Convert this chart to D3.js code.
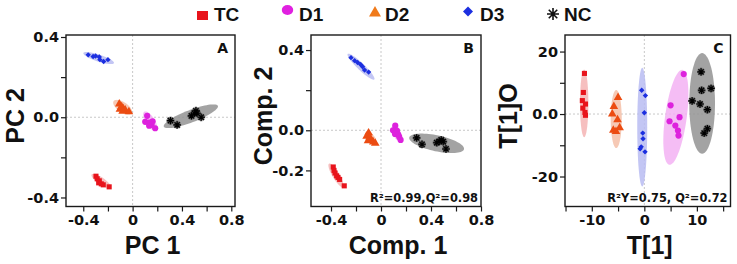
<!DOCTYPE html>
<html>
<head>
<meta charset="utf-8">
<script src="https://cdn.jsdelivr.net/npm/d3@7"></script>
<style>
  body { margin: 0; background: #fff; }
  svg { display: block; }
</style>
</head>
<body>
<div id="chart"></div>
<script>
//************* data ***************/
var groups = ["TC", "D1", "D2", "D3", "NC"];

// panel A : PCA scores
var pcaTC = [[-0.297,-0.294],[-0.287,-0.307],[-0.27,-0.317],[-0.275,-0.327],[-0.254,-0.332],[-0.238,-0.337],[-0.19,-0.347]];
var pcaD1 = [[0.118,0.007],[0.102,-0.023],[0.134,-0.027],[0.162,-0.02],[0.154,-0.038],[0.134,-0.042],[0.183,-0.055]];
var pcaD2 = [[-0.108,0.066],[-0.089,0.053],[-0.076,0.043],[-0.103,0.04],[-0.06,0.036],[-0.03,0.027],[-0.081,0.03]];
var pcaD3 = [[-0.36,0.311],[-0.32,0.303],[-0.3,0.305],[-0.27,0.30],[-0.265,0.287],[-0.235,0.278],[-0.2,0.287]];
var pcaNC = [[0.307,-0.017],[0.361,-0.038],[0.477,0.007],[0.513,0.032],[0.523,0.02],[0.556,0.0],[0.5,0.02]];
// ellipse: centre x, centre y, semi axis u (x,y), semi axis v (x,y)
var pcaEllipses = [
  [-0.255,-0.318, 0.077,-0.0325, -0.016,-0.0145],
  [0.143,-0.02, 0.0486,-0.0475, -0.031,-0.012],
  [-0.081,0.05, 0.073,-0.03, -0.0227,-0.021],
  [-0.275,0.295, 0.124,-0.025, -0.0088,-0.0166],
  [0.472,0.005, 0.2195,0.0515, 0.0175,-0.029]
];

// panel B : PLS-DA scores
var plsTC = [[-0.382,-0.183],[-0.376,-0.2],[-0.368,-0.213],[-0.355,-0.227],[-0.344,-0.235],[-0.331,-0.245],[-0.294,-0.277]];
var plsD1 = [[0.114,0.023],[0.096,0.0],[0.128,-0.003],[0.112,-0.018],[0.138,-0.022],[0.146,-0.033],[0.157,-0.048]];
var plsD2 = [[-0.099,-0.013],[-0.115,-0.03],[-0.091,-0.037],[-0.078,-0.047],[-0.104,-0.052],[-0.062,-0.058],[-0.046,-0.065]];
var plsD3 = [[-0.24,0.362],[-0.211,0.347],[-0.187,0.338],[-0.163,0.328],[-0.147,0.317],[-0.131,0.3],[-0.099,0.29]];
var plsNC = [[0.285,-0.038],[0.328,-0.07],[0.446,-0.062],[0.482,-0.048],[0.498,-0.057],[0.52,-0.093],[0.466,-0.055]];
var plsEllipses = [
  [-0.36,-0.225, 0.056,-0.0585, -0.024,-0.009],
  [0.126,-0.0125, 0.024,-0.04, -0.03,-0.007],
  [-0.082,-0.04, 0.04,-0.03, -0.0246,-0.013],
  [-0.16,0.317, 0.1064,-0.0635, -0.0194,-0.0127],
  [0.445,-0.065, 0.219,-0.029, -0.0133,-0.039]
];

// panel C : OPLS-DA scores
var oplsTC = [[-11.4,13.0],[-11.6,6.9],[-11.8,4.3],[-11.2,3.2],[-11.7,1.9],[-11.3,0.5],[-11.2,-0.4]];
var oplsD1 = [[7.5,12.8],[5.0,2.8],[4.8,-2.3],[6.7,-1.0],[5.9,-3.7],[6.4,-5.3],[6.5,-6.9]];
var oplsD2 = [[-5.0,5.3],[-5.8,2.4],[-6.1,0.0],[-5.1,-1.8],[-4.7,-4.4],[-5.9,-5.2],[-5.4,-5.6]];
var oplsD3 = [[-0.5,7.6],[0.2,5.9],[0.0,0.4],[-0.3,-6.1],[-0.25,-7.9],[-0.6,-10.5],[-0.8,-11.1],[0.13,-12.1]];
var oplsNC = [[10.8,13.5],[12.7,8.2],[10.9,7.6],[9.1,4.2],[10.6,3.2],[12.0,1.4],[12.0,-4.7],[11.4,-6.1]];
var oplsEllipses = [
  [-11.45,3.4, 0,10.8, 0.8,0],
  [6.0,-1.05, 1.24,15.2, 2.04,-0.46],
  [-5.35,-1.6, 0,9.3, 1.05,0],
  [-0.4,-4.2, 0,19, 0.95,0],
  [11.0,3.4, 0,16.1, 2.45,0]
];

// axes
var pcaXDomain = [-0.54, 0.83], pcaYDomain = [0.41, -0.445];
var pcaXTicks = [-0.4,-0.2,0,0.2,0.4,0.6,0.8], pcaXLabels = ["-0.4","","0","","0.4","","0.8"];
var pcaYTicks = [0.4,0.2,0,-0.2,-0.4], pcaYLabels = ["0.4","","0.0","","-0.4"];

var plsXDomain = [-0.56, 0.8], plsYDomain = [0.475, -0.38];
var plsXTicks = [-0.4,-0.2,0,0.2,0.4,0.6,0.8], plsXLabels = ["-0.4","","0","","0.4","","0.8"];
var plsYTicks = [0.4,0.2,0,-0.2], plsYLabels = ["0.4","","0.0","-0.2"];

var oplsXDomain = [-15.1, 16.4], oplsYDomain = [25.3, -29.6];
var oplsXTicks = [-15,-10,-5,0,5,10,15], oplsXLabels = ["","-10","","0","","10",""];
var oplsYTicks = [20,10,0,-10,-20], oplsYLabels = ["20","","0.0","","-20"];

//************* styles ***************/
var pointColor = ["#e8141c", "#dd22dd", "#ec4c12", "#1c2fe0", "#111111"];
var legendColor = ["#e8141c", "#e020e0", "#f07a1a", "#1c2fe0", "#111111"];
var ellipseColor = ["#f4b4b4", "#f3b2f3", "#f4c0a8", "#b8bcf2", "#939393"];
var symbolType = [d3.symbolSquare, d3.symbolCircle, d3.symbolTriangle, "diamond", null];
var symbolSize = [26, 30, 32, 0, 0];

var tickFont = "'DejaVu Sans', sans-serif";
var titleFont = "'Liberation Sans', Arial, sans-serif";

var svg = d3.select("#chart").append("svg")
    .attr("width", 737)
    .attr("height", 264);

function asteriskPath(r) {
  var p = "";
  for (var k = 0; k < 4; k++) {
    var a = k * Math.PI / 4;
    var dx = r * Math.cos(a), dy = r * Math.sin(a);
    p += "M" + (-dx) + "," + (-dy) + "L" + dx + "," + dy;
  }
  return p;
}

function diamondPath(r) {
  return "M0," + (-r) + "L" + r + ",0L0," + r + "L" + (-r) + ",0Z";
}

function ellipsePath(e, x, y) {
  var pts = d3.range(0, 73).map(function(i) {
    var t = i / 72 * 2 * Math.PI;
    return [x(e[0] + e[2] * Math.cos(t) + e[4] * Math.sin(t)),
            y(e[1] + e[3] * Math.cos(t) + e[5] * Math.sin(t))];
  });
  return d3.line()(pts) + "Z";
}

//************* one panel ***************/
function drawPanel(cfg) {
  var x = d3.scaleLinear().domain(cfg.xDomain).range([cfg.left, cfg.right]);
  var y = d3.scaleLinear().domain(cfg.yDomain).range([cfg.top, cfg.bottom]);
  var g = svg.append("g");

  // dotted zero lines
  g.append("line")
    .attr("x1", x(0)).attr("x2", x(0))
    .attr("y1", cfg.top).attr("y2", cfg.bottom)
    .attr("stroke", "#c8c8c8").attr("stroke-dasharray", "2,2");
  g.append("line")
    .attr("x1", cfg.left).attr("x2", cfg.right)
    .attr("y1", y(0)).attr("y2", y(0))
    .attr("stroke", "#c8c8c8").attr("stroke-dasharray", "2,2");

  // ellipses
  g.selectAll(".ell")
    .data(cfg.ellipses)
    .enter().append("path")
      .attr("class", "ell")
      .attr("d", function(e) { return ellipsePath(e, x, y); })
      .attr("fill", function(e, i) { return ellipseColor[i]; })
      .attr("opacity", 0.85);

  // points
  cfg.series.forEach(function(pts, i) {
    var sel = g.selectAll(".pt" + i)
      .data(pts)
      .enter().append("path")
        .attr("class", "pt" + i)
        .attr("transform", function(d) { return "translate(" + x(d[0]) + "," + y(d[1]) + ")"; });
    if (symbolType[i] === "diamond") {
      sel.attr("d", diamondPath(2.7)).attr("fill", pointColor[i]);
    } else if (symbolType[i]) {
      sel.attr("d", d3.symbol().type(symbolType[i]).size(symbolSize[i]))
        .attr("fill", pointColor[i]);
    } else {
      sel.attr("d", asteriskPath(4))
        .attr("fill", "none")
        .attr("stroke", "#555")
        .attr("stroke-width", 2.2);
      g.selectAll(".ptk" + i)
        .data(pts)
        .enter().append("path")
          .attr("class", "ptk" + i)
          .attr("transform", function(d) { return "translate(" + x(d[0]) + "," + y(d[1]) + ")"; })
          .attr("d", asteriskPath(3.6))
          .attr("fill", "none")
          .attr("stroke", "#000")
          .attr("stroke-width", 1.1);
    }
  });

  // frame
  g.append("rect")
    .attr("x", cfg.left).attr("y", cfg.top)
    .attr("width", cfg.right - cfg.left).attr("height", cfg.bottom - cfg.top)
    .attr("fill", "none").attr("stroke", "#1a1a1a").attr("stroke-width", 1.4);

  // axes
  var xAxis = d3.axisBottom(x).tickValues(cfg.xTicks).tickSize(5).tickPadding(3)
    .tickFormat(function(d, i) { return cfg.xLabels[i]; });
  var yAxis = d3.axisLeft(y).tickValues(cfg.yTicks).tickSize(5).tickPadding(2)
    .tickFormat(function(d, i) { return cfg.yLabels[i]; });

  [g.append("g").attr("transform", "translate(0," + cfg.bottom + ")").call(xAxis),
   g.append("g").attr("transform", "translate(" + cfg.left + ",0)").call(yAxis)]
    .forEach(function(a) {
      a.select(".domain").remove();
      a.selectAll("line").attr("stroke", "#1a1a1a").attr("stroke-width", 1.2);
      a.selectAll("text")
        .attr("font-family", tickFont)
        .attr("font-weight", "bold")
        .attr("font-size", "14.5px")
        .attr("fill", "#111");
    });

  // axis titles
  g.append("text")
    .attr("x", (cfg.left + cfg.right) / 2 + 2)
    .attr("y", 254)
    .attr("text-anchor", "middle")
    .attr("font-family", titleFont)
    .attr("font-weight", "bold")
    .attr("font-size", "25px")
    .attr("fill", "#111")
    .text(cfg.xTitle);

  g.append("text")
    .attr("transform", "translate(" + cfg.yTitleX + "," + 116 + ") rotate(-90)")
    .attr("text-anchor", "middle")
    .attr("font-family", titleFont)
    .attr("font-weight", "bold")
    .attr("font-size", "25px")
    .attr("fill", "#111")
    .text(cfg.yTitle);

  // panel letter
  g.append("text")
    .attr("x", cfg.right - 7).attr("y", cfg.top + 18)
    .attr("text-anchor", "end")
    .attr("font-family", tickFont)
    .attr("font-weight", "bold")
    .attr("font-size", "14px")
    .attr("fill", "#111")
    .text(cfg.letter);

  if (cfg.stats) {
    g.append("text")
      .attr("x", cfg.right - 3).attr("y", cfg.bottom - 5)
      .attr("text-anchor", "end")
      .attr("font-family", tickFont)
      .attr("font-weight", "bold")
      .attr("font-size", "11.4px")
      .attr("fill", "#111")
      .text(cfg.stats);
  }
}

drawPanel({
  left: 66, right: 235, top: 35, bottom: 206.5,
  xDomain: pcaXDomain, yDomain: pcaYDomain,
  xTicks: pcaXTicks, xLabels: pcaXLabels, yTicks: pcaYTicks, yLabels: pcaYLabels,
  series: [pcaTC, pcaD1, pcaD2, pcaD3, pcaNC], ellipses: pcaEllipses,
  xTitle: "PC 1", yTitle: "PC 2", yTitleX: 24, letter: "A", stats: null
});

drawPanel({
  left: 311, right: 481, top: 35, bottom: 206.5,
  xDomain: plsXDomain, yDomain: plsYDomain,
  xTicks: plsXTicks, xLabels: plsXLabels, yTicks: plsYTicks, yLabels: plsYLabels,
  series: [plsTC, plsD1, plsD2, plsD3, plsNC], ellipses: plsEllipses,
  xTitle: "Comp. 1", yTitle: "Comp. 2", yTitleX: 272, letter: "B", stats: "R\u00b2=0.99,Q\u00b2=0.98"
});

drawPanel({
  left: 565, right: 730.5, top: 35, bottom: 206.5,
  xDomain: oplsXDomain, yDomain: oplsYDomain,
  xTicks: oplsXTicks, xLabels: oplsXLabels, yTicks: oplsYTicks, yLabels: oplsYLabels,
  series: [oplsTC, oplsD1, oplsD2, oplsD3, oplsNC], ellipses: oplsEllipses,
  xTitle: "T[1]", yTitle: "T[1]O", yTitleX: 517, letter: "C", stats: "R\u00b2Y=0.75, Q\u00b2=0.72"
});

//************* legend ***************/
var legendX = [197, 282, 368, 463, 547];
var legend = svg.append("g");
groups.forEach(function(name, i) {
  var lx = legendX[i];
  var row = legend.append("g");
  if (i === 0) {
    row.append("rect").attr("x", lx).attr("y", 11).attr("width", 11).attr("height", 9)
      .attr("fill", legendColor[i]);
  } else if (i === 1) {
    row.append("ellipse").attr("cx", lx + 5.5).attr("cy", 10).attr("rx", 5.7).attr("ry", 5)
      .attr("fill", legendColor[i]);
  } else if (i === 2) {
    row.append("path").attr("transform", "translate(" + (lx + 7) + ",13)")
      .attr("d", d3.symbol().type(d3.symbolTriangle).size(62))
      .attr("fill", legendColor[i]);
  } else if (i === 3) {
    row.append("path").attr("transform", "translate(" + (lx + 5) + ",11.5)")
      .attr("d", diamondPath(5))
      .attr("fill", legendColor[i]);
  } else {
    row.append("path").attr("transform", "translate(" + (lx + 6) + ",14)")
      .attr("d", asteriskPath(6))
      .attr("fill", "none").attr("stroke", "#111").attr("stroke-width", 1.6);
  }
  row.append("text")
    .attr("x", lx + 17)
    .attr("y", 21)
    .attr("font-family", titleFont)
    .attr("font-weight", "bold")
    .attr("font-size", "19px")
    .attr("fill", "#111")
    .text(name);
});
</script>
</body>
</html>
